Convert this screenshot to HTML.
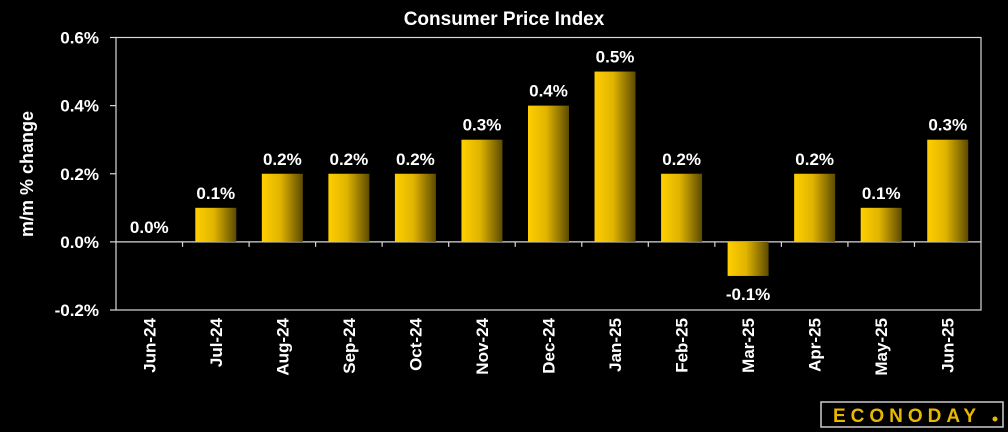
<!DOCTYPE html>
<html><head><meta charset="utf-8"><style>
html,body{margin:0;padding:0;background:#000;width:1008px;height:432px;overflow:hidden}
svg{display:block;font-family:"Liberation Sans",sans-serif}
</style></head><body>
<svg id="c" width="1008" height="432">
<defs><linearGradient id="g" x1="0" x2="1" y1="0" y2="0">
<stop offset="0" stop-color="#ffcf00"/><stop offset="0.45" stop-color="#e0b400"/><stop offset="1" stop-color="#5c4a00"/></linearGradient></defs>
<text x="504" y="25" fill="#fff" font-size="19" font-weight="bold" text-anchor="middle">Consumer Price Index</text>
<text transform="translate(33,174) rotate(-90)" fill="#fff" font-size="18" font-weight="bold" text-anchor="middle">m/m % change</text>
<g id="plot"></g>
<g>
<rect x="821" y="402" width="182" height="25" fill="#000" stroke="#ccc" stroke-width="1.5"/>
<text x="907" y="422" fill="#e8b800" font-size="19" font-weight="bold" text-anchor="middle" letter-spacing="5">ECONODAY</text>
<circle cx="995" cy="419" r="2.5" fill="#e8b800"/>
</g>
</svg>
<script>
const categories=["Jun-24","Jul-24","Aug-24","Sep-24","Oct-24","Nov-24","Dec-24","Jan-25","Feb-25","Mar-25","Apr-25","May-25","Jun-25"];
const values=[0.0,0.1,0.2,0.2,0.2,0.3,0.4,0.5,0.2,-0.1,0.2,0.1,0.3];
const yTicks=[-0.2,0,0.2,0.4,0.6];
const L=116,R=981,T=37.5,B=310,yMin=-0.2,yMax=0.6;
const y=v=>B-(v-yMin)/(yMax-yMin)*(B-T);
const bw=(R-L)/categories.length;
const x=i=>L+bw*(i+0.5);
const NS="http://www.w3.org/2000/svg";
const p=document.getElementById('plot');
function mk(t,a,txt){const e=document.createElementNS(NS,t);for(const k in a)e.setAttribute(k,a[k]);if(txt!=null)e.textContent=txt;p.appendChild(e);return e;}
let e=mk('rect',{x:L,y:T,width:R-L,height:B-T,fill:'none',stroke:'#d8d8d8','stroke-width':1.2});


yTicks.forEach(v=>{
 const t=mk('line',{x1:L-6,x2:L,y1:y(v),y2:y(v),stroke:'#d8d8d8','stroke-width':1.2});
 
 
 const l=mk('text',{x:L-17,y:y(v)+6,fill:'#fff','font-size':17,'font-weight':'bold','text-anchor':'end'},v.toFixed(1)+'%');
 
 
});
e=mk('line',{x1:L,x2:R,y1:y(0),y2:y(0),stroke:'#d8d8d8','stroke-width':1.2});


for(let i=1;i<categories.length;i++){
 const t=mk('line',{x1:L+bw*i,x2:L+bw*i,y1:y(0),y2:y(0)+5,stroke:'#d8d8d8','stroke-width':1.2});
 
 
}
categories.forEach((c,i)=>{
 const v=values[i],cx=x(i),w=41;
 const top=Math.min(y(v),y(0)),h=Math.abs(y(v)-y(0));
 const r=mk('rect',{x:cx-w/2,y:top,width:w,height:h,fill:'url(#g)'});
 
 
 const ly=v>=0?y(v)-9:y(v)+24;
 const t=mk('text',{x:cx,y:ly,fill:'#fff','font-size':17,'font-weight':'bold','text-anchor':'middle'},v.toFixed(1)+'%');
 
 
 const xl=mk('text',{transform:`translate(${cx+6},${B+8}) rotate(-90)`,fill:'#fff','font-size':17,'font-weight':'bold','text-anchor':'end'},c);
 
 
});
</script>
</body></html>
